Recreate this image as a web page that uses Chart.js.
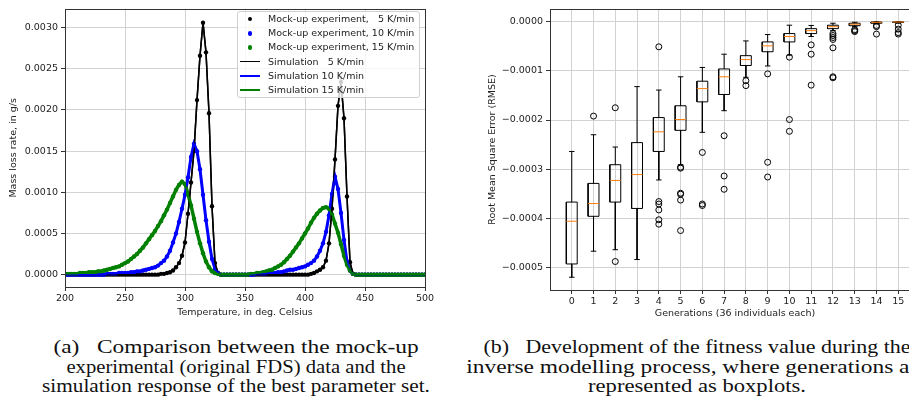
<!DOCTYPE html>
<html>
<head>
<meta charset="utf-8">
<script src="https://cdn.jsdelivr.net/npm/chart.js@4.4.1/dist/chart.umd.min.js"></script>
<style>
  html, body { margin: 0; padding: 0; background: #fff; }
  body { width: 909px; height: 403px; overflow: hidden; position: relative; font-family: "DejaVu Sans", sans-serif; }
  #leftBox { position: absolute; left: 0; top: 0; width: 440px; height: 320px; }
  #rightBox { position: absolute; left: 445px; top: 0; width: 480px; height: 320px; }
  #legend {
    position: absolute; left: 237px; top: 11px; width: 183px; height: 87px;
    border: 1px solid #d0d0d0; border-radius: 3px; background: rgba(255,255,255,0.8);
    font-size: 9.5px; color: #222; box-sizing: border-box;
  }
  #legend .row { position: relative; height: 14.2px; }
  #legend .tx { position: absolute; left: 30px; top: 0; line-height: 14.2px; white-space: pre; }
  #legend .dot { position: absolute; left: 10px; top: 5px; width: 4.4px; height: 4.4px; border-radius: 50%; }
  #legend .ln { position: absolute; left: 2px; top: 6.4px; width: 20px; height: 1.5px; }
  .cap {
    position: absolute; font-family: "Liberation Serif", serif; font-size: 19.5px;
    line-height: 19.5px; text-align: center; color: #111; white-space: pre;
    transform-origin: center top;
  }
  .capA { left: 0; width: 472px; }
  .capB { left: 397px; width: 600px; }
</style>
</head>
<body>
<div id="leftBox"><canvas id="left" width="440" height="320"></canvas><div id="legend"></div></div>
<div id="rightBox"><canvas id="right" width="480" height="320"></canvas></div>
<div class="cap capA" style="top:337px; transform: scaleX(1.2);">(a)&#8194; Comparison between the mock-up</div>
<div class="cap capA" style="top:356.5px; transform: scaleX(1.06);">experimental (original FDS) data and the</div>
<div class="cap capA" style="top:376px; transform: scaleX(1.09);">simulation response of the best parameter set.</div>
<div class="cap capB" style="top:337px; transform: scaleX(1.125);">(b)&#8194; Development of the fitness value during the</div>
<div class="cap capB" style="top:356.5px; transform: scaleX(1.2);">inverse modelling process, where generations are</div>
<div class="cap capB" style="top:376px; transform: scaleX(1.16);">represented as boxplots.</div>
<script>
// ---- (a) mass loss rate curves ----
const temps = [
  200, 202.5, 205, 207.5, 210, 212.5, 215, 217.5, 220, 222.5,
  225, 227.5, 230, 232.5, 235, 237.5, 240, 242.5, 245, 247.5,
  250, 252.5, 255, 257.5, 260, 262.5, 265, 267.5, 270, 272.5,
  275, 277.5, 280, 282.5, 285, 287.5, 290, 292.5, 295, 297.5,
  300, 302.5, 305, 307.5, 310, 312.5, 315, 317.5, 320, 322.5,
  325, 327.5, 330, 332.5, 335, 337.5, 340, 342.5, 345, 347.5,
  350, 352.5, 355, 357.5, 360, 362.5, 365, 367.5, 370, 372.5,
  375, 377.5, 380, 382.5, 385, 387.5, 390, 392.5, 395, 397.5,
  400, 402.5, 405, 407.5, 410, 412.5, 415, 417.5, 420, 422.5,
  425, 427.5, 430, 432.5, 435, 437.5, 440, 442.5, 445, 447.5,
  450, 452.5, 455, 457.5, 460, 462.5, 465, 467.5, 470, 472.5,
  475, 477.5, 480, 482.5, 485, 487.5, 490, 492.5, 495, 497.5,
  500
];

// 5 K/min
const rate5 = [
  0, 0, 0, 0, 0, 0, 0, 0, 0, 0,
  0, 0, 0, 0, 0, 0, 0, 0, 0, 0,
  0, 0, 0, 0, 0, 0, 0, 0, 0, 0,
  0, 0, 0.00001, 0.00001, 0.00002, 0.00003, 0.00005, 0.00009, 0.00014, 0.00023,
  0.00039, 0.00074, 0.00112, 0.00150, 0.00212, 0.00266, 0.00306, 0.00270, 0.00196, 0.00083,
  0.00014, 0.00002, 0, 0, 0, 0, 0, 0, 0, 0,
  0, 0, 0, 0, 0, 0, 0, 0, 0, 0,
  0, 0, 0, 0, 0, 0, 0, 0, 0, 0,
  0, 0, 0.00001, 0.00002, 0.00004, 0.00006, 0.00009, 0.00017, 0.00038, 0.00080,
  0.00140, 0.00205, 0.00234, 0.00190, 0.00095, 0.00015, 0.00001, 0, 0, 0,
  0, 0, 0, 0, 0, 0, 0, 0, 0, 0,
  0, 0, 0, 0, 0, 0, 0, 0, 0, 0,
  0
];

// 10 K/min
const rate10 = [
  0, 0, 0, 0, 0, 0, 0, 0, 0, 0,
  0, 0, 0, 0, 0.00001, 0.00001, 0.00001, 0.00001, 0.00002, 0.00002,
  0.00002, 0.00002, 0.00003, 0.00003, 0.00004, 0.00004, 0.00005, 0.00006, 0.00007, 0.00008,
  0.00009, 0.00011, 0.00014, 0.00017, 0.00022, 0.00029, 0.00039, 0.00050, 0.00064, 0.00080,
  0.00097, 0.00118, 0.00143, 0.00159, 0.00150, 0.00128, 0.00097, 0.00066, 0.00040, 0.00019,
  0.00007, 0.00002, 0, 0, 0, 0, 0, 0, 0, 0,
  0, 0, 0, 0, 0.00001, 0.00001, 0.00001, 0.00001, 0.00002, 0.00002,
  0.00002, 0.00003, 0.00003, 0.00004, 0.00005, 0.00006, 0.00006, 0.00007, 0.00008, 0.00009,
  0.00010, 0.00012, 0.00014, 0.00017, 0.00022, 0.00029, 0.00038, 0.00052, 0.00072, 0.00098,
  0.00119, 0.00104, 0.00075, 0.00042, 0.00016, 0.00005, 0.00001, 0, 0, 0,
  0, 0, 0, 0, 0, 0, 0, 0, 0, 0,
  0, 0, 0, 0, 0, 0, 0, 0, 0, 0,
  0
];

// 15 K/min
const rate15 = [
  0.00001, 0.00001, 0.00001, 0.00001, 0.00001, 0.00002, 0.00002, 0.00002, 0.00003, 0.00003,
  0.00003, 0.00004, 0.00004, 0.00005, 0.00006, 0.00007, 0.00008, 0.00009, 0.00010, 0.00012,
  0.00014, 0.00016, 0.00019, 0.00022, 0.00025, 0.00029, 0.00033, 0.00038, 0.00043, 0.00048,
  0.00053, 0.00059, 0.00065, 0.00072, 0.00079, 0.00087, 0.00095, 0.00103, 0.00109, 0.00113,
  0.00110, 0.00098, 0.00084, 0.00068, 0.00052, 0.00038, 0.00026, 0.00016, 0.00009, 0.00004,
  0.00002, 0.00001, 0, 0, 0, 0, 0, 0, 0, 0,
  0, 0, 0.00001, 0.00001, 0.00002, 0.00002, 0.00003, 0.00004, 0.00005, 0.00006,
  0.00008, 0.00010, 0.00012, 0.00015, 0.00019, 0.00023, 0.00028, 0.00033, 0.00038, 0.00044,
  0.00050, 0.00056, 0.00063, 0.00069, 0.00074, 0.00078, 0.00081, 0.00082, 0.00080, 0.00073,
  0.00062, 0.00051, 0.00037, 0.00023, 0.00012, 0.00005, 0.00001, 0, 0, 0,
  0, 0, 0, 0, 0, 0, 0, 0, 0, 0,
  0, 0, 0, 0, 0, 0, 0, 0, 0, 0,
  0
];

const mockLabels = ["Mock-up experiment,   5 K/min", "Mock-up experiment, 10 K/min", "Mock-up experiment, 15 K/min"];
const simLabels = ["Simulation   5 K/min", "Simulation 10 K/min", "Simulation 15 K/min"];
const rateColors = ["#000000", "#0000ff", "#008000"];
const mockBandWidths = [1.5, 3, 3.5];
const tempTicks = [200, 250, 300, 350, 400, 450, 500];
const rateTicks = [0, 0.0005, 0.001, 0.0015, 0.002, 0.0025, 0.003];

// ---- (b) boxplots per generation ----
const generations = [0, 1, 2, 3, 4, 5, 6, 7, 8, 9, 10, 11, 12, 13, 14, 15];
const whiskerHigh = [-0.000264, -0.000230, -0.000255, -0.000132, -0.000139, -0.000112, -0.000093, -0.000066,
  -0.000039, -0.000026, -0.000007, -0.0000075, -0.000003, -0.000001, 0, 0];
const boxTop = [-0.000367, -0.000329, -0.000291, -0.000246, -0.000195, -0.000171, -0.000121, -0.000096,
  -0.000069, -0.000041, -0.000024, -0.000014, -0.000007, -0.000003, -0.0000005, -0.0000003];
const medians = [-0.000406, -0.000370, -0.000323, -0.000311, -0.000224, -0.000199, -0.000136, -0.000112,
  -0.000077, -0.000049, -0.000030, -0.000018, -0.000010, -0.000005, -0.000001, -0.0000005];
const boxBottom = [-0.000493, -0.000396, -0.000367, -0.000380, -0.000264, -0.000221, -0.000163, -0.000148,
  -0.000089, -0.000061, -0.000041, -0.000024, -0.000014, -0.000008, -0.000003, -0.0000015];
const whiskerLow = [-0.000520, -0.000467, -0.000464, -0.000484, -0.000322, -0.000291, -0.000225, -0.000181,
  -0.000113, -0.000090, -0.000068, -0.000030, -0.000018, -0.000010, -0.000004, -0.000003];
const outliers = [
  [],
  [-0.000192],
  [-0.000175, -0.000488],
  [],
  [-0.000051, -0.000366, -0.000371, -0.000383, -0.000403, -0.000412],
  [-0.000296, -0.000298, -0.000349, -0.000351, -0.000363, -0.000425],
  [-0.000266, -0.000371, -0.000374],
  [-0.000232, -0.000314, -0.000341],
  [-0.000120, -0.000130],
  [-0.000106, -0.000286, -0.000316],
  [-0.000072, -0.000199, -0.000223],
  [-0.000047, -0.000066, -0.000129],
  [-0.000024, -0.000028, -0.000032, -0.000036, -0.000053, -0.000112, -0.000114],
  [-0.000016, -0.000018, -0.000020],
  [-0.0000075, -0.000010, -0.000025],
  [-0.000007, -0.000015, -0.000022, -0.000025]
];
const rmseTicks = [0, -0.0001, -0.0002, -0.0003, -0.0004, -0.0005];

const tickFont = { family: "DejaVu Sans", size: 9.5 };
const textColor = "#222";

// frame round the axes, like matplotlib spines
const framePlugin = {
  id: "frame",
  afterDatasetsDraw(chart) {
    const { ctx, chartArea: a } = chart;
    ctx.save();
    ctx.strokeStyle = "#333";
    ctx.lineWidth = 1;
    ctx.strokeRect(Math.round(a.left) + 0.5, Math.round(a.top) + 0.5,
      Math.round(a.right - a.left), Math.round(a.bottom - a.top));
    ctx.restore();
  }
};

function axisStyle(extra) {
  return Object.assign({
    type: "linear",
    border: { display: false },
    grid: { color: "#d2d2d2", lineWidth: 1, tickColor: "#333", tickLength: 4 },
    ticks: { font: tickFont, color: textColor, padding: 2, maxRotation: 0 }
  }, extra);
}

// ---------------- left chart ----------------
const rateSeries = [rate5, rate10, rate15];
const leftDatasets = [];
rateSeries.forEach((vals, k) => {
  const pts = temps.map((t, i) => ({ x: t, y: vals[i] }));
  leftDatasets.push({
    label: simLabels[k], data: pts, showLine: true, borderColor: rateColors[k],
    borderWidth: 1.5, pointRadius: 0, order: 2 - k
  });
  // mock-up samples are very dense in the original, so the dots merge into a band
  leftDatasets.push({
    label: mockLabels[k], data: pts, showLine: true, borderColor: rateColors[k], borderWidth: mockBandWidths[k],
    backgroundColor: rateColors[k], pointRadius: 2.2, pointBorderWidth: 0, order: 5 - k
  });
});

new Chart(document.getElementById("left"), {
  type: "scatter",
  data: { datasets: leftDatasets },
  options: {
    responsive: false, animation: false,
    layout: { padding: { top: 6, right: 15, left: 0, bottom: 0 } },
    plugins: { legend: { display: false }, tooltip: { enabled: false } },
    scales: {
      x: axisStyle({
        min: 200, max: 500,
        afterBuildTicks: (s) => { s.ticks = tempTicks.map((v) => ({ value: v })); },
        afterFit: (s) => { s.height = 33; },
        ticks: { font: tickFont, color: textColor, padding: 2, maxRotation: 0, callback: (v) => String(v) },
        title: { display: true, text: "Temperature, in deg. Celsius", font: tickFont, color: textColor, padding: { top: 0, bottom: 2 } }
      }),
      y: axisStyle({
        min: -0.00015, max: 0.00323,
        afterBuildTicks: (s) => { s.ticks = rateTicks.map((v) => ({ value: v })); },
        afterFit: (s) => { s.width = 65; },
        ticks: { font: tickFont, color: textColor, padding: 3, callback: (v) => v.toFixed(4) },
        title: { display: true, text: "Mass loss rate, in g/s", font: tickFont, color: textColor, padding: { top: 8.3, bottom: 0 } }
      })
    }
  },
  plugins: [framePlugin]
});

// legend built from the same labels and colours
const legendRows = [];
mockLabels.forEach((l, k) => legendRows.push({ label: l, color: rateColors[k], kind: "dot" }));
simLabels.forEach((l, k) => legendRows.push({ label: l, color: rateColors[k], kind: "ln" }));
document.getElementById("legend").innerHTML = legendRows.map((r) =>
  '<div class="row"><span class="' + r.kind + '" style="background:' + r.color + '"></span><span class="tx">' + r.label + "</span></div>"
).join("");

// ---------------- right chart ----------------
const HALF_BOX = 0.25, HALF_CAP = 0.125;
const boxPts = [], whiskerPts = [], capPts = [], medianPts = [], outlierPts = [];
const gap = (x) => ({ x: x, y: null });
generations.forEach((g, i) => {
  boxPts.push({ x: g - HALF_BOX, y: boxBottom[i] }, { x: g + HALF_BOX, y: boxBottom[i] },
    { x: g + HALF_BOX, y: boxTop[i] }, { x: g - HALF_BOX, y: boxTop[i] },
    { x: g - HALF_BOX, y: boxBottom[i] }, gap(g));
  whiskerPts.push({ x: g, y: boxTop[i] }, { x: g, y: whiskerHigh[i] }, gap(g),
    { x: g, y: boxBottom[i] }, { x: g, y: whiskerLow[i] }, gap(g));
  capPts.push({ x: g - HALF_CAP, y: whiskerHigh[i] }, { x: g + HALF_CAP, y: whiskerHigh[i] }, gap(g),
    { x: g - HALF_CAP, y: whiskerLow[i] }, { x: g + HALF_CAP, y: whiskerLow[i] }, gap(g));
  medianPts.push({ x: g - HALF_BOX, y: medians[i] }, { x: g + HALF_BOX, y: medians[i] }, gap(g));
  outliers[i].forEach((v) => outlierPts.push({ x: g, y: v }));
});

const segLine = (data, color, order) => ({
  data: data, showLine: true, spanGaps: false, borderColor: color, borderWidth: 1,
  pointRadius: 0, order: order
});

new Chart(document.getElementById("right"), {
  type: "scatter",
  data: {
    datasets: [
      segLine(medianPts, "#ff7f0e", 0),
      segLine(boxPts, "#000", 1),
      segLine(whiskerPts, "#000", 2),
      segLine(capPts, "#000", 3),
      { data: outlierPts, pointRadius: 3, pointBorderWidth: 1, borderColor: "#000",
        backgroundColor: "rgba(0,0,0,0)", order: 4 }
    ]
  },
  options: {
    responsive: false, animation: false,
    layout: { padding: { top: 9, right: 4.9, left: 0, bottom: 0 } },
    plugins: { legend: { display: false }, tooltip: { enabled: false } },
    scales: {
      x: axisStyle({
        min: -1, max: 16,
        afterBuildTicks: (s) => { s.ticks = generations.map((v) => ({ value: v })); },
        afterFit: (s) => { s.height = 30; },
        ticks: { font: tickFont, color: textColor, padding: 2, maxRotation: 0, callback: (v) => String(v) },
        title: { display: true, text: "Generations (36 individuals each)", font: tickFont, color: textColor, padding: { top: 0, bottom: 0.3 } }
      }),
      y: axisStyle({
        min: -0.000546, max: 0.000026,
        afterBuildTicks: (s) => { s.ticks = rmseTicks.map((v) => ({ value: v })); },
        afterFit: (s) => { s.width = 105; },
        ticks: { font: tickFont, color: textColor, padding: 3,
          callback: (v) => (Math.abs(v) < 1e-12 ? "0.0000" : "\u2212" + Math.abs(v).toFixed(4)) },
        title: { display: true, text: "Root Mean Square Error (RMSE)", font: tickFont, color: textColor, padding: { top: 41.6, bottom: 0 } }
      })
    }
  },
  plugins: [framePlugin]
});
</script>
</body>
</html>
